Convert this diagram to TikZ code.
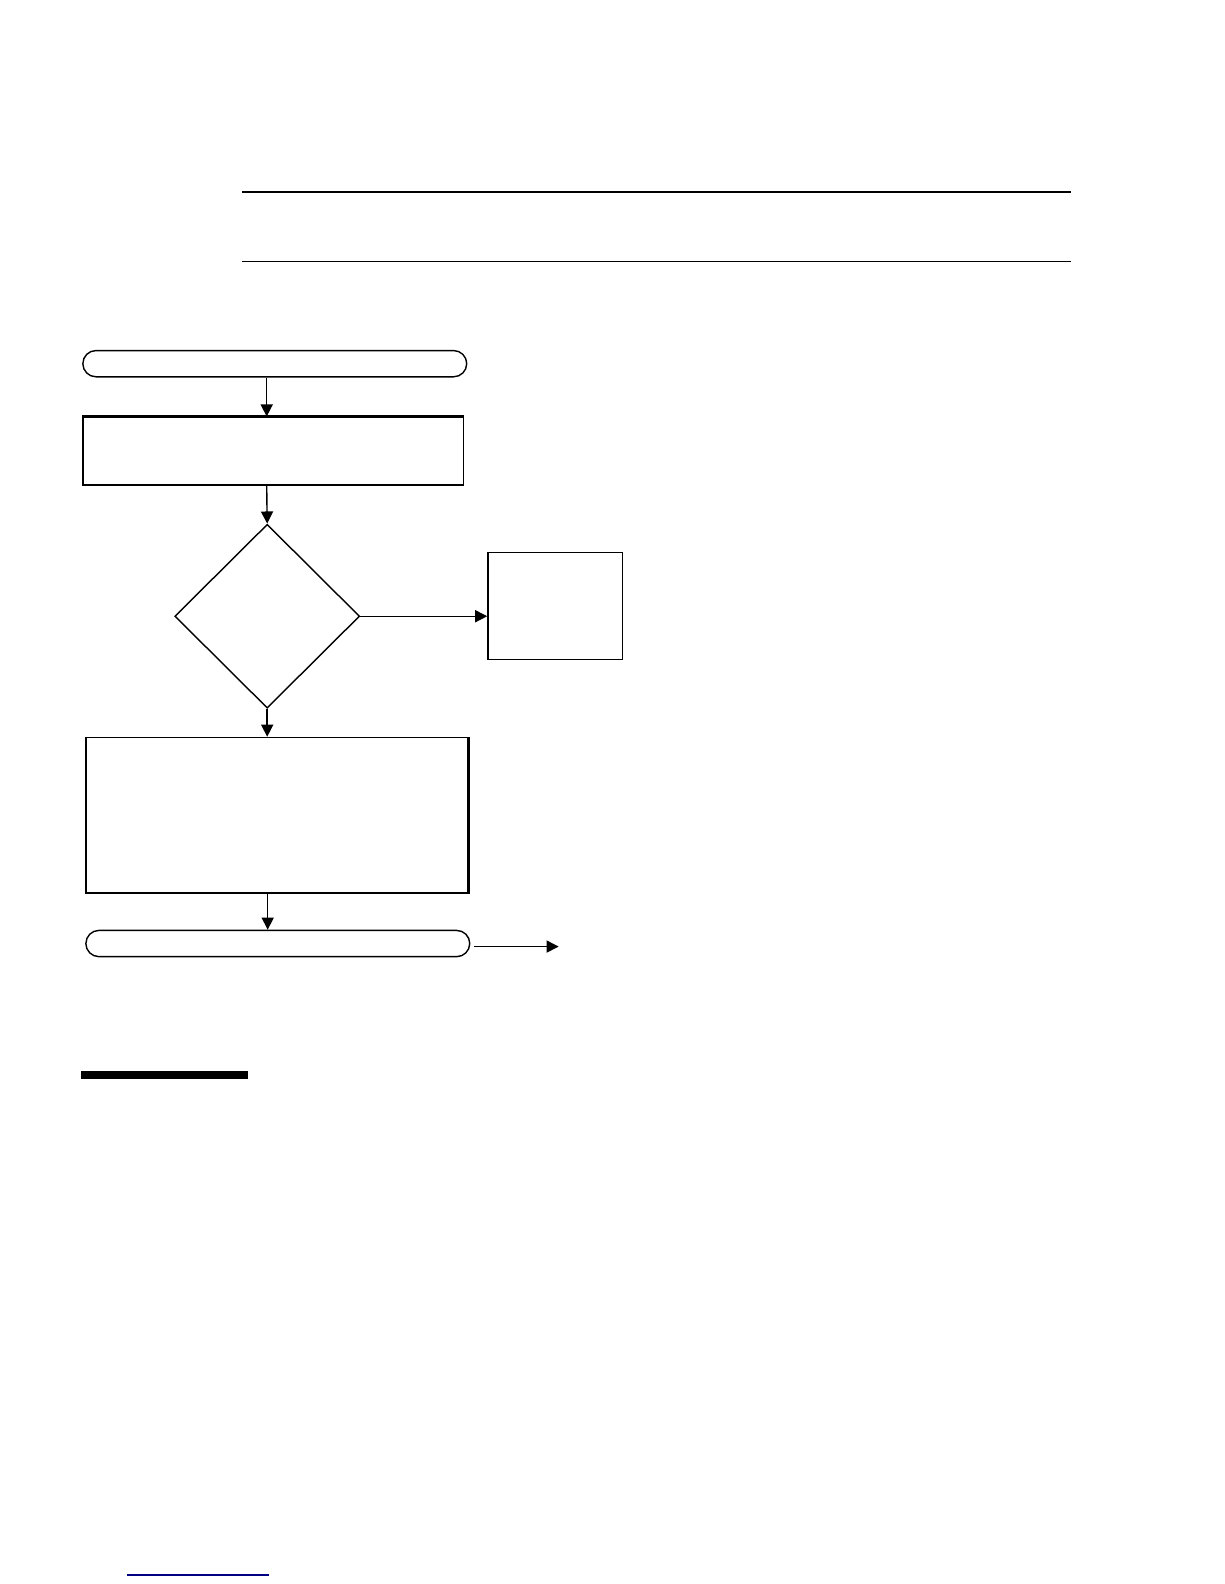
\documentclass[tikz,border=0pt]{standalone}
\usetikzlibrary{shapes.geometric,arrows.meta}
\begin{document}
\begin{tikzpicture}[x=0.5pt,y=-0.5pt,
  line width=0.7pt,
  term/.style={draw,rounded corners=6.5pt,minimum width=190pt,minimum height=13pt,inner sep=0pt},
  procbox/.style={draw,inner sep=0pt},
  decis/.style={draw,diamond,minimum width=91.5pt,minimum height=91pt,inner sep=0pt,aspect=1},
  arr/.style={-{Triangle[length=6pt,width=6pt]}}]
\useasboundingbox (0,0) rectangle (1212,1568);
\draw (240,190) -- (1060,190);
\draw (240,259) -- (1060,259);
\node[term] (t1) at (272,360) {};
\node[procbox,minimum width=188.5pt,minimum height=33.5pt] (p1) at (270.5,446.5) {};
\draw[line width=1.4pt] (p1.north west) -- (p1.north east);
\node[decis] (d1) at (264.5,610) {};
\node[procbox,minimum width=66.5pt,minimum height=53pt] (p2) at (549.5,600) {};
\node[procbox,minimum width=189pt,minimum height=77pt] (p3) at (274,807) {};
\draw[line width=1.2pt] (p3.north east) -- (p3.south east);
\node[term] (t2) at (275,934) {};
\coordinate (endpt) at (553,937);
\draw[arr] (t1.south -| 264,0) -- (p1.north -| 264,0);
\draw[arr] (p1.south -| 264,0) -- (d1.north);
\draw[arr] (d1.east) -- (p2.west |- d1.east);
\draw[arr] (d1.south) -- (p3.north -| d1.south);
\draw[arr] (p3.south -| 265,0) -- (t2.north -| 265,0);
\draw[arr] ([xshift=2pt]t2.east |- endpt) -- (endpt);
\fill (80,1060) rectangle (245,1068);
\draw[blue!50!black,line width=0.6pt] (126,1559) -- (266,1559);
\end{tikzpicture}
\end{document}
